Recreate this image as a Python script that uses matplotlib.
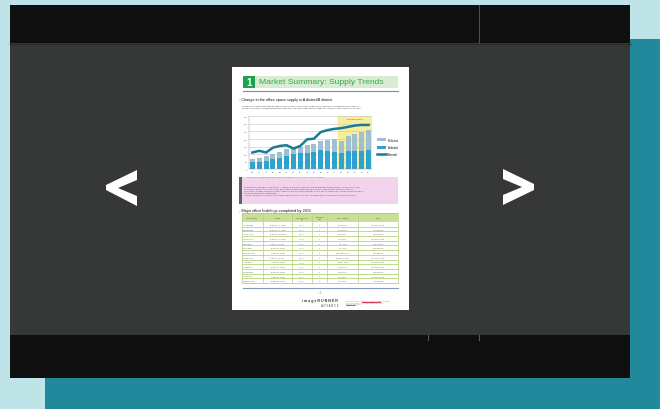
import numpy as np
import matplotlib.pyplot as plt
from matplotlib.patches import Rectangle, Polygon

# Chart data (office space supply)
years = ['00', '01', '02', '03', '04', '05', '06', '07', '08',
         '09', '10', '11', '12', '13', '14', '15', '16', '17']
a_district = [45, 50, 55, 65, 75, 90, 100, 105, 110, 115, 125, 120, 115, 105, 120, 120, 120, 125]
b_district = [20, 26, 30, 39, 42, 43, 33, 43, 51, 55, 60, 76, 83, 82, 97, 110, 126, 134]
demand = [111, 122, 111, 143, 154, 159, 137, 154, 198, 202, 246, 259, 267, 272, 280, 289, 293, 293]
estimated_from = 12.5

# Table data
table_header = ['Building name', 'Location', 'Total floor space\n(m²)', 'Number of\nfloors',
                'Date completed', 'Owner']
buildings = ['AAA Building', 'BBB Building', 'CCC Building', 'DDD Building', 'EEE Tower',
             'FFF Tower', 'GGG Building', 'HHH Building', 'III Building', 'JJJ Building',
             'KKK Building', 'LLL Building', 'MMM Building']
locations = ['B district 2-3-4 xxxx', 'B district 3-5-1 xxxx', 'B district 1-2-8 xxxx',
             'B district 4-1-6 xxxx', 'C district 1-8 xxxx', 'B district 2-9 xxxx',
             'A district 3-4 xxxx', 'C district 2-6 xxxx', 'A district 5-1 xxxx',
             'B district 1-7 xxxx', 'B district 6-2 xxxx', 'A district 4-3 xxxx',
             'B district 2-2 xxxx']
floor_space = ['50,000', '50,000', '50,000', '50,000', '50,000', '50,000', '50,000',
               '50,000', '50,000', '50,000', '50,000', '50,000', '50,000']
floors = ['20', '15', '20', '5', '5', '5', '20', '20', '8', '8', '6', '8', '5']
completed = ['March 2014', 'March 2014', 'April 2014', 'April 2014', 'May 2014', 'May 2014',
             'September 2014', 'December 2014', 'January 2015', 'March 2015', 'March 2015',
             'April 2015', 'April 2015']
owners = ['XXX Corporation', 'XXX Realtors', 'ZZZ Realtors', 'XXX Corporation', 'XXX Realtors',
          'ZZZ Realtors', 'XXX Realtors', 'XXX Corporation', 'XXX Corporation', 'XXX Corporation',
          'ZZZ Realtors', 'XXX Corporation', 'XXX Realtors']

plt.rcParams['font.family'] = ['Liberation Sans', 'DejaVu Sans']

fig = plt.figure(figsize=(6.6, 4.1), dpi=100)
fig.patch.set_facecolor('#bfe4e8')

# pixel-space canvas
bg = fig.add_axes([0, 0, 1, 1])
bg.set_xlim(0, 660)
bg.set_ylim(410, 0)
bg.axis('off')


def box(x0, y0, x1, y1, color, **kw):
    bg.add_patch(Rectangle((x0, y0), x1 - x0, y1 - y0, facecolor=color, edgecolor='none', **kw))


# viewer background
box(45, 40, 660, 410, '#22889c')
box(10, 6, 630, 44, '#0e0f0e')
box(10, 44, 630, 336, '#363837')
box(10, 336, 630, 379, '#0e0f0e')
bg.plot([10, 630], [44.5, 44.5], color='#2b2c2b', lw=1)
bg.plot([479, 479], [6, 44], color='#4a4b4a', lw=0.8)
bg.plot([428, 428], [336, 341], color='#5a5b5a', lw=0.8)
bg.plot([479, 479], [336, 341], color='#5a5b5a', lw=0.8)

# navigation arrows
bg.add_patch(Polygon([(137, 171), (106, 186), (106, 191), (137, 207), (137, 197), (118, 189),
                      (137, 181)], closed=True, facecolor='white', edgecolor='none'))
bg.add_patch(Polygon([(503, 170), (534, 185), (534, 191), (503, 206), (503, 196), (522, 188),
                      (503, 180)], closed=True, facecolor='white', edgecolor='none'))

# page
box(232, 68, 409, 311, 'white')
box(243, 77, 255, 89, '#1aa34a')
box(255, 77, 398, 89, '#d7ecd0')
bg.text(249, 83.3, '1', color='white', fontsize=7, fontweight='bold', ha='center', va='center')
bg.text(259, 83, 'Market Summary: Supply Trends', color='#3aa84b', fontsize=6.1,
        ha='left', va='center')
bg.plot([243, 398], [92, 92], color='#6f8fb0', lw=0.8)

bg.text(239, 99.5, '- Change in the office space supply in A district/B district', fontsize=2.7,
        color='#111111', ha='left', va='center')
intro = ('The persistent growth and ongoing expansion of information technology companies is '
         'creating a large demand and pulling the\nmarket. Since 2011, increased demand spurred '
         'on by new office space supplies leads us to predict a continued positive growth.')
bg.text(242, 107, intro, fontsize=1.5, color='#444444', ha='left', va='center', linespacing=1.6)
bg.text(247, 177, 'Source: Key 2014 Market Review and Growth and investigation report for the '
        'term of 2012 and comparison', fontsize=1.2, color='#777777', ha='left', va='center')

# pink notes box
box(239, 178, 398, 205, '#f2d3ec')
box(239, 178, 241.5, 205, '#606060')
notes = ('Demand for new offices in B district is stable as a result of the new station that was '
         'opened there in 2014. Many new\nbuildings in B district continue to be built, with the '
         'figure matching up with that of the already popular A district.\n'
         'The supply of office space will cannot keep up with demand, however, from 2015 through '
         '2016, a large number of office\nbuildings have been constructed.\n'
         'A large commercial facility will be operational in B district in 2016. We anticipate '
         'increased demand for buildings.')
bg.text(244, 191.5, notes, fontsize=1.6, color='#555555', ha='left', va='center', linespacing=1.7)

bg.text(239, 211.5, '- Major office buildings completed by 2015', fontsize=2.8, color='#111111',
        ha='left', va='center')

# table
col_edges = [242, 263, 292, 312, 327, 358, 398]
head_top, head_bot = 214, 223
row_h = (284 - head_bot) / len(buildings)
box(col_edges[0], head_top, col_edges[-1], head_bot, '#c9df98')
for i, h in enumerate(table_header):
    bg.text((col_edges[i] + col_edges[i + 1]) / 2, (head_top + head_bot) / 2, h, fontsize=1.2,
            color='#444444', ha='center', va='center', linespacing=1.1)
columns = [buildings, locations, floor_space, floors, completed, owners]
for r in range(len(buildings)):
    yc = head_bot + (r + 0.5) * row_h
    for c, col in enumerate(columns):
        if c == 0:
            bg.text(col_edges[0] + 1, yc, col[r], fontsize=1.3, color='#666666', ha='left',
                    va='center')
        else:
            bg.text((col_edges[c] + col_edges[c + 1]) / 2, yc, col[r], fontsize=1.3,
                    color='#666666', ha='center', va='center')
    bg.plot([col_edges[0], col_edges[-1]], [head_bot + (r + 1) * row_h] * 2, color='#b3d27a',
            lw=0.6)
bg.plot([col_edges[0], col_edges[-1]], [head_top, head_top], color='#a9cc6c', lw=0.5)
for xe in col_edges:
    bg.plot([xe, xe], [head_top, 284], color='#b3d27a', lw=0.5)

bg.plot([243, 398], [288.5, 288.5], color='#7f9cc0', lw=0.8)
bg.text(320, 293, '- 2 -', fontsize=1.8, color='#666666', ha='center', va='center')
bg.text(320, 301.5, 'i m a g e R U N N E R', fontsize=2.6, color='#333333', ha='center',
        va='center', fontweight='bold')
bg.text(330, 306.5, 'A D V A N C E', fontsize=2.0, color='#555555', ha='center', va='center')
bg.text(346, 303, 'This brochure was created using imageRUNNER ADVANCE\nprinting with '
        'high quality colour reproduction for the\nbusiness documents', fontsize=1.2,
        color='#888888', ha='left', va='center', linespacing=1.5)
bg.plot([362, 380], [303.2, 303.2], color='#d04050', lw=0.8)
bg.plot([346, 355], [306, 306], color='#d04050', lw=0.6)

# embedded supply chart
ax = fig.add_axes([249 / 660, 1 - 170.3 / 410, (372 - 249) / 660, (170.3 - 117.3) / 410])
x = np.arange(len(years))
ax.axvspan(estimated_from, len(years) - 0.5, ymax=1, color='#f7ee9c', zorder=0)
ax.text((estimated_from + len(years) - 0.5) / 2, 338, 'Estimated numbers', fontsize=1.4,
        color='#555555', ha='center', va='center')
ax.bar(x, a_district, width=0.72, color='#2ea3d0', zorder=2, label='A district')
ax.bar(x, b_district, width=0.72, bottom=a_district, color='#9fc0d0', zorder=2,
       label='B district')
ax.plot(x, demand, color='#1b7a93', lw=1.8, zorder=3, label='Demand')
ax.set_xlim(-0.5, len(years) - 0.5)
ax.set_ylim(0, 350)
ax.set_yticks(np.arange(0, 351, 50))
ax.set_xticks(x)
ax.set_xticklabels(years)
ax.tick_params(labelsize=1.6, length=0, pad=1, colors='#444444')
ax.grid(axis='y', color='#c4c4c4', lw=0.4, zorder=1)
for s in ['top', 'right']:
    ax.spines[s].set_visible(False)
for s in ['left', 'bottom']:
    ax.spines[s].set_linewidth(0.3)
    ax.spines[s].set_color('#888888')
h, l = ax.get_legend_handles_labels()
ax.legend([h[2], h[1], h[0]], [l[2], l[1], l[0]][::-1][::-1],
          loc='center left', bbox_to_anchor=(1.02, 0.42), fontsize=1.9, frameon=False,
          handlelength=3.5, handleheight=1.2, labelspacing=1.3)

fig.savefig('out.png', dpi=100, facecolor=fig.get_facecolor())
